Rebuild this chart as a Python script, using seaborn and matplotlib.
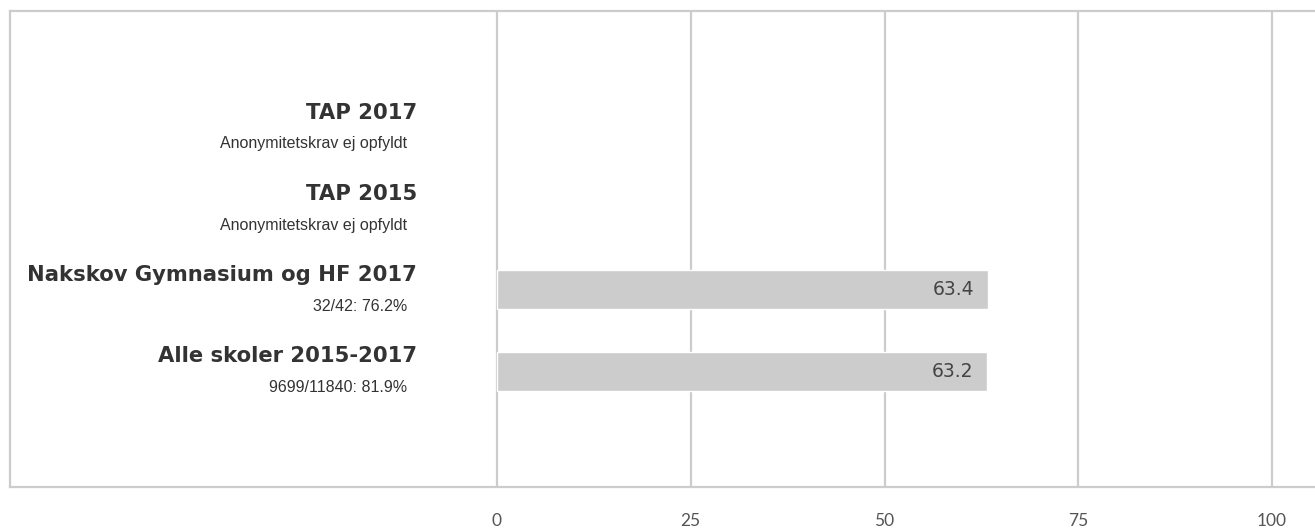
import seaborn as sns
import matplotlib.pyplot as plt
import pandas as pd
import numpy as np

# data
categories = ['TAP 2017', 'TAP 2015', 'Nakskov Gymnasium og HF 2017', 'Alle skoler 2015-2017']
subtitles = ['Anonymitetskrav ej opfyldt', 'Anonymitetskrav ej opfyldt', '32/42: 76.2%', '9699/11840: 81.9%']
values = [np.nan, np.nan, 63.4, 63.2]
ticks = [0, 25, 50, 75, 100]

df = pd.DataFrame({'kategori': categories, 'vaerdi': values})

sns.set_style('white')
plt.rcParams['font.family'] = ['Lato', 'DejaVu Sans']

W, H = 1315, 531
fig = plt.figure(figsize=(W / 100, H / 100), dpi=100)
# axes covers the framed box, 0 sits at x=497 px, 100 at x=1272 px
ax = fig.add_axes([10 / W, (H - 487) / H, (W - 10) / W, (487 - 11) / H])

sns.barplot(data=df, x='vaerdi', y='kategori', order=categories, orient='h',
            color='#cccccc', width=0.48, saturation=1, ax=ax, zorder=3)

px = 7.75
ax.set_xlim((10 - 497) / px, (W - 497) / px)
ax.set_ylim(4.43, -1.44)
ax.set_xticks(ticks)
ax.set_xticklabels([str(t) for t in ticks], fontsize=12.5, color='#555555')
ax.tick_params(axis='x', length=0, pad=19)
ax.set_yticks([])
ax.set_xlabel('')
ax.set_ylabel('')
ax.grid(axis='x', color='#cccccc', linewidth=1.6, zorder=0)
ax.set_axisbelow(True)

for side in ['left', 'top', 'bottom']:
    ax.spines[side].set_color('#cccccc')
    ax.spines[side].set_linewidth(1.6)
ax.spines['right'].set_visible(False)

# kategori-navne og undertekster til venstre
for i, (navn, under) in enumerate(zip(categories, subtitles)):
    ax.text((417 - 497) / px, i - 0.18, navn, ha='right', va='center',
            fontsize=15.2, fontweight='bold', color='#333333', family=['DejaVu Sans'])
    ax.text((407 - 497) / px, i + 0.2, under, ha='right', va='center',
            fontsize=11.5, color='#333333', family=['Liberation Sans', 'DejaVu Sans'])

# værdier inde i søjlerne
for i, v in enumerate(values):
    if not np.isnan(v):
        ax.text(v - 14 / px, i, f'{v:.1f}', ha='right', va='center',
                fontsize=13.5, color='#444444', zorder=4, family=['DejaVu Sans'])

fig.savefig('out.png', dpi=100)
